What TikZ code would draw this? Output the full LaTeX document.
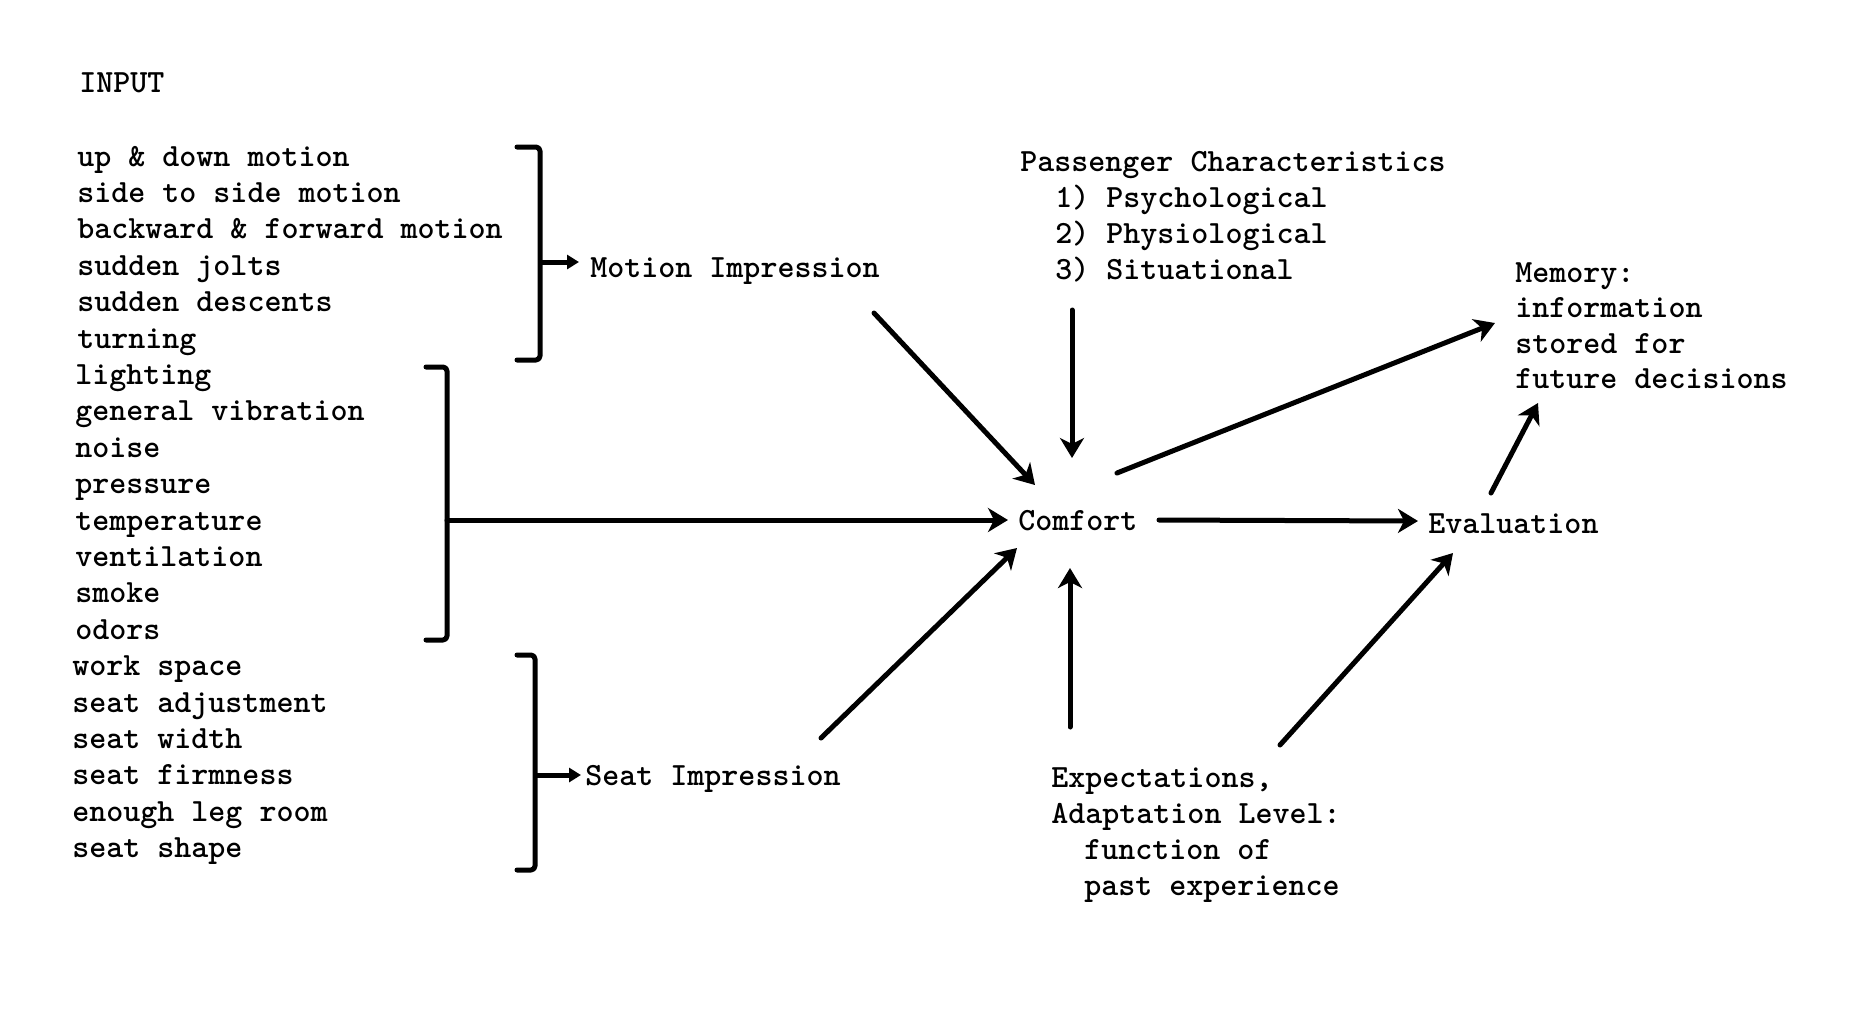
\documentclass[tikz,border=0pt]{standalone}
\usepackage{fontspec}
\usetikzlibrary{arrows.meta}
\begin{document}
\begin{tikzpicture}[x=0.5pt,y=-0.5pt,
  txt/.style={font=\ttfamily\bfseries\fontsize{16.2}{18}\selectfont, inner sep=0pt, anchor=base west},
  conn/.style={line width=2.5pt, line cap=round, -{Stealth[length=10pt,width=12pt,inset=3pt]}},
  brk/.style={line width=2.5pt, line join=round, line cap=round, rounded corners=2pt},
  small/.style={line width=2.5pt, -{Triangle[length=6pt,width=7pt]}}]
\useasboundingbox (0,0) rectangle (1870,1009);

\node[txt] (input) at (79,92) {INPUT};

% input lists
\foreach \t [count=\i] in {up \& down motion, side to side motion, backward \& forward motion, sudden jolts, sudden descents, turning}
  \node[txt] (mot\i) at (77,{166+36.4*(\i-1)}) {\t};
\foreach \t [count=\i] in {lighting, general vibration, noise, pressure, temperature, ventilation, smoke, odors}
  \node[txt] (env\i) at (75,{166+36.4*(\i+5)}) {\t};
\foreach \t [count=\i] in {work space, seat adjustment, seat width, seat firmness, enough leg room, seat shape}
  \node[txt] (seat\i) at (72,{166+36.4*(\i+13)}) {\t};

% brackets
\draw[brk] (517,147) -- (540,147) -- (540,360) -- (517,360);
\draw[brk] (426,367) -- (447,367) -- (447,640) -- (426,640);
\draw[brk] (517,655) -- (535,655) -- (535,870) -- (517,870);

% central nodes
\node[txt] (motion) at (590,277) {Motion Impression};
\node[txt] (seatimp) at (585,785) {Seat Impression};
\node[txt] (comfort) at (1018,530) {Comfort};
\node[txt] (eval) at (1428,533) {Evaluation};

\node[txt] (pc0) at (1020,171) {Passenger Characteristics};
\node[txt] (pc1) at (1055,207) {1) Psychological};
\node[txt] (pc2) at (1055,243) {2) Physiological};
\node[txt] (pc3) at (1055,279) {3) Situational};

\node[txt] (mem0) at (1515,282) {Memory:};
\node[txt] (mem1) at (1515,317) {information};
\node[txt] (mem2) at (1515,353) {stored for};
\node[txt] (mem3) at (1515,388) {future decisions};

\node[txt] (ex1) at (1051,787) {Expectations,};
\node[txt] (ex2) at (1051,823) {Adaptation Level:};
\node[txt] (ex3) at (1084,859) {function of};
\node[txt] (ex4) at (1084,895) {past experience};

% bracket outputs
\coordinate (mb) at (540,262);
\coordinate (eb) at (447,520);
\coordinate (sb) at (535,775);
\draw[small] (mb) -- ([xshift=-5.5pt]mb -| motion.west);
\draw[small] (sb) -- ([xshift=-2pt]sb -| seatimp.west);
\draw[conn] (eb) -- ([xshift=-5pt]eb -| comfort.west);

% connector ends
\coordinate (miA) at (874,313);  \coordinate (coA) at (1035,485);
\coordinate (pcA) at (1072,310); \coordinate (coB) at (1072,458);
\coordinate (siA) at (821,738);  \coordinate (coC) at (1017,548);
\coordinate (exA) at (1070,727); \coordinate (coD) at (1070,568);
\coordinate (coE) at (1117,473); \coordinate (meA) at (1495,323);
\coordinate (coF) at (1159,520); \coordinate (evA) at (1418,521);
\coordinate (evB) at (1491,493); \coordinate (meB) at (1538,403);
\coordinate (exB) at (1280,745); \coordinate (evC) at (1453,553);

\draw[conn] (miA) -- (coA);
\draw[conn] (pcA) -- (coB);
\draw[conn] (siA) -- (coC);
\draw[conn] (exA) -- (coD);
\draw[conn] (coE) -- (meA);
\draw[conn] (coF) -- (evA);
\draw[conn] (evB) -- (meB);
\draw[conn] (exB) -- (evC);
\end{tikzpicture}
\end{document}
